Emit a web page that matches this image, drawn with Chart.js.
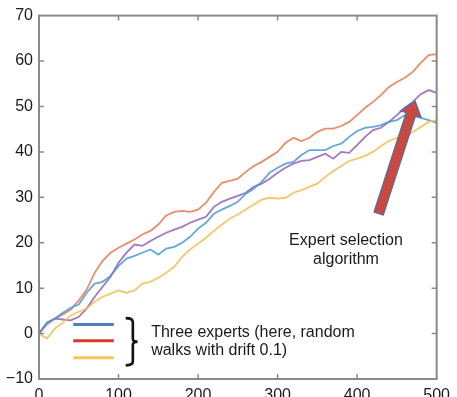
<!DOCTYPE html>
<html>
<head>
<meta charset="utf-8">
<script src="https://cdn.jsdelivr.net/npm/chart.js@4.4.0/dist/chart.umd.min.js"></script>
<style>
  html, body { margin: 0; padding: 0; background: #fff; }
  canvas { display: block; }
</style>
</head>
<body>
<canvas id="walks" width="457" height="397"></canvas>
<script>
// time steps (every 10 of 500)
const steps = Array.from({ length: 51 }, (_, i) => i * 10);

const orangeWalk = [0, 2.0, 3.3, 4.2, 5.3, 7.3, 9.7, 13.4, 16.0, 17.8, 18.9, 19.8, 20.7, 21.8, 22.6, 24.0, 26.0, 26.8, 27.0, 26.8,
  27.3, 28.8, 31.2, 33.2, 33.6, 34.1, 35.6, 36.9, 37.8, 38.9, 40.0, 42.0, 43.1, 42.4, 43.1, 44.4, 45.1, 45.1, 45.7, 46.6,
  48.1, 49.7, 51.0, 52.5, 54.3, 55.4, 56.3, 57.6, 59.6, 61.3, 61.5];
const purpleWalk = [0, 2.4, 3.3, 3.1, 2.9, 3.7, 5.5, 8.1, 10.3, 12.5, 15.6, 17.8, 19.6, 19.3, 20.4, 21.3, 22.2, 22.9, 23.5, 24.4,
  25.1, 25.7, 27.9, 29.0, 29.7, 30.3, 31.0, 32.3, 33.0, 34.1, 35.4, 36.5, 37.4, 38.0, 38.2, 38.9, 39.6, 38.5, 40.0, 39.8,
  41.5, 43.3, 44.8, 45.3, 46.6, 48.1, 49.7, 51.0, 52.7, 53.6, 53.0];
const blueWalk = [0, 2.4, 3.3, 4.6, 5.7, 6.4, 9.0, 11.0, 11.4, 12.7, 14.9, 16.5, 17.1, 17.8, 18.5, 17.4, 18.7, 19.1, 20.0, 21.3,
  23.1, 24.4, 26.4, 27.3, 28.1, 29.0, 30.8, 31.9, 33.4, 35.4, 36.5, 37.4, 37.8, 39.3, 40.4, 40.4, 40.4, 41.3, 41.8, 43.3,
  44.6, 45.3, 45.5, 45.9, 46.6, 47.0, 48.1, 47.9, 47.5, 47.0, 46.4];
const yellowWalk = [0, -1.1, 1.1, 2.4, 4.0, 4.8, 5.5, 7.0, 8.1, 8.8, 9.5, 9.0, 9.5, 11.0, 11.4, 12.3, 13.4, 14.7, 16.9, 18.5,
  19.8, 21.1, 22.6, 24.0, 25.3, 26.2, 27.3, 28.4, 29.5, 29.9, 29.7, 29.9, 31.0, 31.6, 32.3, 33.0, 34.5, 35.8, 36.9, 38.0,
  38.5, 39.1, 40.0, 41.3, 42.4, 43.1, 43.1, 44.4, 45.5, 46.6, 47.0];

const xTicks = [0, 100, 200, 300, 400, 500];
const yTicks = [-10, 0, 10, 20, 30, 40, 50, 60, 70];

const expertLabel = ['Expert selection', 'algorithm'];
const legendLabel = ['Three experts (here, random', 'walks with drift 0.1)'];

const FONT = '"Liberation Sans", Arial, Helvetica, sans-serif';

const toPoints = (vals) => vals.map((v, i) => ({ x: steps[i], y: v }));

function walk(vals, color) {
    return {
        data: toPoints(vals),
        borderColor: color,
        borderWidth: 1.8,
        pointRadius: 0,
        tension: 0
    };
}

// frame, inward ticks and the hand-drawn annotations
const decor = {
    id: 'decor',
    afterDatasetsDraw(chart) {
        const { ctx, chartArea: a, scales: { x, y } } = chart;
        ctx.save();

        ctx.strokeStyle = '#8a8a8a';
        ctx.lineWidth = 2;
        ctx.strokeRect(a.left, a.top, a.right - a.left, a.bottom - a.top);

        ctx.lineWidth = 1.5;
        ctx.beginPath();
        xTicks.slice(1, -1).forEach((t) => {
            const px = x.getPixelForValue(t);
            ctx.moveTo(px, a.bottom); ctx.lineTo(px, a.bottom - 5);
            ctx.moveTo(px, a.top); ctx.lineTo(px, a.top + 5);
        });
        yTicks.slice(1, -1).forEach((t) => {
            const py = y.getPixelForValue(t);
            ctx.moveTo(a.left, py); ctx.lineTo(a.left + 5, py);
            ctx.moveTo(a.right, py); ctx.lineTo(a.right - 5, py);
        });
        ctx.stroke();

        // arrow: expert selection algorithm
        const tx = x.getPixelForValue(427), ty = y.getPixelForValue(26.4);
        const hx = x.getPixelForValue(473), hy = y.getPixelForValue(51.2);
        const ang = Math.atan2(hy - ty, hx - tx);
        const len = Math.hypot(hx - tx, hy - ty);
        ctx.translate(tx, ty);
        ctx.rotate(ang);
        const sw = 5, hw = 11, hl = 14;
        ctx.beginPath();
        ctx.moveTo(0, -sw);
        ctx.lineTo(len - hl, -sw);
        ctx.lineTo(len - hl, -hw);
        ctx.lineTo(len, 0);
        ctx.lineTo(len - hl, hw);
        ctx.lineTo(len - hl, sw);
        ctx.lineTo(0, sw);
        ctx.closePath();
        ctx.fillStyle = '#c8493f';
        ctx.fill();
        ctx.strokeStyle = '#3d6fb6';
        ctx.lineWidth = 1;
        ctx.stroke();
        ctx.setTransform(1, 0, 0, 1, 0, 0);

        ctx.fillStyle = '#1a1a1a';
        ctx.font = '16px ' + FONT;
        ctx.textAlign = 'center';
        ctx.textBaseline = 'middle';
        ctx.fillText(expertLabel[0], x.getPixelForValue(386), y.getPixelForValue(20.4));
        ctx.fillText(expertLabel[1], x.getPixelForValue(386), y.getPixelForValue(16.2));

        // legend swatches
        const legendColors = ['#4f7fc1', '#d83a2a', '#f6c85c'];
        const legendY = [2.0, -1.6, -5.3];
        ctx.lineWidth = 3;
        legendColors.forEach((c, i) => {
            const py = y.getPixelForValue(legendY[i]);
            ctx.strokeStyle = c;
            ctx.beginPath();
            ctx.moveTo(x.getPixelForValue(43), py);
            ctx.lineTo(x.getPixelForValue(94), py);
            ctx.stroke();
        });

        // brace
        const bx0 = x.getPixelForValue(109), bx1 = x.getPixelForValue(118), bx2 = x.getPixelForValue(124);
        const bt = y.getPixelForValue(3.4), bm = y.getPixelForValue(-1.8), bb = y.getPixelForValue(-7.0);
        ctx.strokeStyle = '#111';
        ctx.lineWidth = 2.6;
        ctx.beginPath();
        ctx.moveTo(bx0, bt);
        ctx.quadraticCurveTo(bx1, bt, bx1, bt + 4);
        ctx.lineTo(bx1, bm - 3);
        ctx.quadraticCurveTo(bx1, bm, bx2, bm);
        ctx.quadraticCurveTo(bx1, bm, bx1, bm + 3);
        ctx.lineTo(bx1, bb - 4);
        ctx.quadraticCurveTo(bx1, bb, bx0, bb);
        ctx.stroke();

        ctx.fillStyle = '#1a1a1a';
        ctx.textAlign = 'left';
        ctx.fillText(legendLabel[0], x.getPixelForValue(141), y.getPixelForValue(0.2));
        ctx.fillText(legendLabel[1], x.getPixelForValue(141), y.getPixelForValue(-3.7));

        ctx.restore();
    }
};

new Chart(document.getElementById('walks'), {
    type: 'line',
    data: {
        datasets: [
            walk(yellowWalk, 'rgba(240, 192, 80, 0.85)'),
            walk(blueWalk, 'rgba(74, 152, 212, 0.85)'),
            walk(purpleWalk, 'rgba(145, 96, 184, 0.85)'),
            walk(orangeWalk, 'rgba(228, 122, 82, 0.85)')
        ]
    },
    options: {
        responsive: false,
        animation: false,
        layout: { padding: { top: 15, right: 14, left: 0, bottom: 0 } },
        plugins: { legend: { display: false }, tooltip: { enabled: false } },
        scales: {
            x: {
                type: 'linear',
                min: 0,
                max: 500,
                afterFit: (s) => { s.height = 18; },
                afterBuildTicks: (s) => { s.ticks = xTicks.map((v) => ({ value: v })); },
                grid: { display: false, drawTicks: false },
                border: { display: false },
                ticks: { padding: 7, color: '#1a1a1a', font: { family: FONT, size: 16 }, maxRotation: 0 }
            },
            y: {
                min: -10,
                max: 70,
                afterFit: (s) => { s.width = 39; },
                afterBuildTicks: (s) => { s.ticks = yTicks.map((v) => ({ value: v })); },
                grid: { display: false, drawTicks: false },
                border: { display: false },
                ticks: {
                    padding: 6,
                    color: '#1a1a1a',
                    font: { family: FONT, size: 16 },
                    callback: (v) => (v < 0 ? '\u2212' + Math.abs(v) : v)
                }
            }
        }
    },
    plugins: [decor]
});
</script>
</body>
</html>
